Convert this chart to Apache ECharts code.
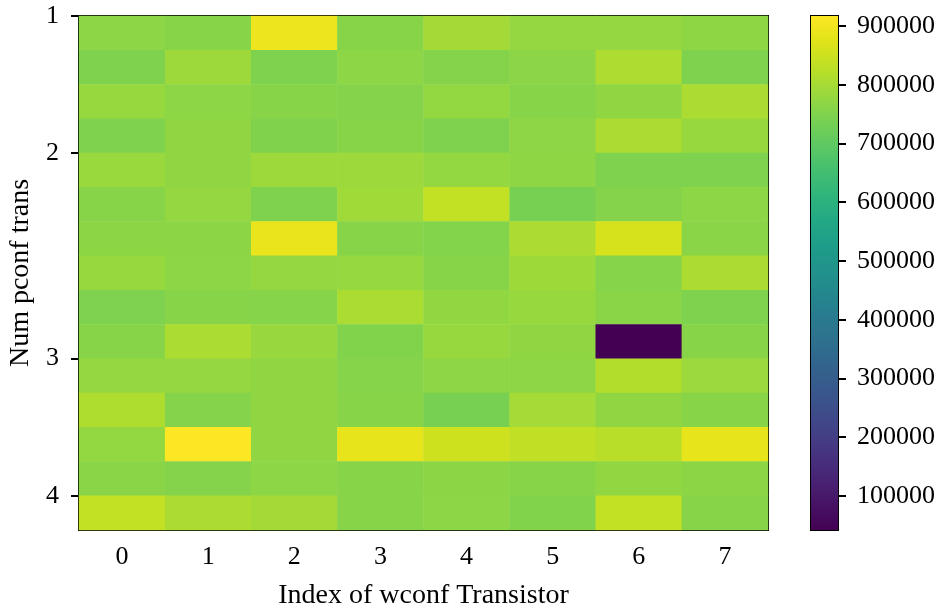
<!DOCTYPE html>
<html>
<head>
<meta charset="utf-8">
<script src="https://cdn.jsdelivr.net/npm/echarts@6/dist/echarts.min.js"></script>
<style>
  html, body { margin: 0; padding: 0; background: #ffffff; }
  #chart { width: 940px; height: 611px; }
</style>
</head>
<body>
<div id="chart"></div>
<script>
// Columns: index of the wconf transistor
const wconfIndex = ['0', '1', '2', '3', '4', '5', '6', '7'];

// Rows: the 15 pconf transistor combinations, grouped by how many are used
const pconfRows = ['0', '1', '2', '3', '4', '5', '6', '7', '8', '9', '10', '11', '12', '13', '14'];

// Row where each "Num pconf trans" group starts, and its label
const groupStartRows = [0, 4, 10, 14];
const groupLabels = ['1', '2', '3', '4'];

// Measured values, one list per row (columns 0..7)
const valuesByRow = [
  [767000, 759000, 893000, 759000, 796000, 777000, 776000, 769000],
  [749000, 788000, 749000, 767000, 755000, 764000, 810000, 748000],
  [780000, 767000, 760000, 755000, 775000, 759000, 771000, 808000],
  [749000, 771000, 750000, 760000, 749000, 768000, 808000, 780000],
  [784000, 771000, 788000, 788000, 775000, 769000, 749000, 749000],
  [760000, 776000, 749000, 792000, 836000, 739000, 755000, 767000],
  [766000, 766000, 889000, 759000, 754000, 808000, 862000, 763000],
  [780000, 767000, 776000, 778000, 760000, 789000, 756000, 808000],
  [747000, 760000, 756000, 805000, 773000, 781000, 763000, 749000],
  [759000, 806000, 782000, 752000, 781000, 771000, 42000, 760000],
  [777000, 777000, 771000, 756000, 768000, 768000, 815000, 786000],
  [812000, 755000, 771000, 760000, 739000, 797000, 771000, 760000],
  [775000, 917000, 771000, 886000, 850000, 834000, 823000, 886000],
  [763000, 755000, 767000, 760000, 766000, 760000, 773000, 766000],
  [836000, 807500, 796000, 760000, 767000, 752000, 836000, 760000]
];

// Colour scale limits and colourbar ticks
const valueMin = 42000;
const valueMax = 917000;
const colorbarTicks = [100000, 200000, 300000, 400000, 500000, 600000, 700000, 800000, 900000];

// Viridis colour map, low to high
const viridis = [
  '#440154', '#471365', '#482475', '#463480', '#414487', '#3b528b', '#355f8d',
  '#2f6c8e', '#2a788e', '#25848e', '#21918c', '#1e9c89', '#22a884', '#2fb47c',
  '#44bf70', '#5ec962', '#7ad151', '#9bd93c', '#bddf26', '#dfe318', '#fde725'
];

const heatData = [];
valuesByRow.forEach((row, r) => {
  row.forEach((v, c) => heatData.push([c, r, v]));
});

const FONT = '"Liberation Serif", "DejaVu Serif", serif';
const tickFont = { fontFamily: FONT, fontSize: 26, color: '#000' };
const nameFont = { fontFamily: FONT, fontSize: 28, color: '#000' };

// Vertical gradient for the colourbar (top = high)
const barGradient = new echarts.graphic.LinearGradient(0, 0, 0, 1,
  viridis.slice().reverse().map((c, i, arr) => ({ offset: i / (arr.length - 1), color: c })));

const chart = echarts.init(document.getElementById('chart'), null, { renderer: 'canvas' });

chart.setOption({
  animation: false,
  backgroundColor: '#ffffff',
  grid: [
    { left: 79, top: 16, width: 689, height: 514, show: true, borderColor: '#000', borderWidth: 2,
      backgroundColor: 'transparent', containLabel: false, outerBoundsMode: 'none' },
    { left: 811, top: 16, width: 27, height: 514, show: true, borderColor: '#000', borderWidth: 2,
      backgroundColor: 'transparent', containLabel: false, outerBoundsMode: 'none' }
  ],
  xAxis: [
    {
      type: 'category', gridIndex: 0, data: wconfIndex,
      axisLine: { show: false },
      axisTick: { show: true, alignWithLabel: true, length: 8, lineStyle: { color: '#000', width: 2 } },
      axisLabel: Object.assign({ margin: 14 }, tickFont),
      splitLine: { show: false },
      name: 'Index of wconf Transistor', nameLocation: 'middle', nameGap: 52,
      nameTextStyle: nameFont
    },
    {
      type: 'category', gridIndex: 1, data: ['bar'],
      show: false
    }
  ],
  yAxis: [
    {
      type: 'category', gridIndex: 0, data: pconfRows, inverse: true,
      show: false
    },
    {
      type: 'value', gridIndex: 0, min: 0, max: pconfRows.length, inverse: true,
      position: 'left',
      axisLine: { show: false },
      splitLine: { show: false },
      axisTick: { show: true, length: 8, customValues: groupStartRows, lineStyle: { color: '#000', width: 2 } },
      axisLabel: Object.assign({
        margin: 20,
        customValues: groupStartRows,
        formatter: v => groupLabels[groupStartRows.indexOf(v)] || ''
      }, tickFont),
      name: 'Num pconf trans', nameLocation: 'middle', nameGap: 44, nameRotate: 90,
      nameTextStyle: nameFont
    },
    {
      type: 'value', gridIndex: 1, min: valueMin, max: valueMax,
      position: 'right',
      axisLine: { show: false },
      splitLine: { show: false },
      axisTick: { show: true, length: 8, customValues: colorbarTicks, lineStyle: { color: '#000', width: 2 } },
      axisLabel: Object.assign({
        margin: 19,
        customValues: colorbarTicks,
        formatter: v => String(v)
      }, tickFont)
    }
  ],
  visualMap: {
    type: 'continuous', show: false, seriesIndex: 0,
    min: valueMin, max: valueMax,
    inRange: { color: viridis }
  },
  series: [
    {
      type: 'heatmap', xAxisIndex: 0, yAxisIndex: 0,
      data: heatData,
      itemStyle: { borderWidth: 0 },
      emphasis: { disabled: true },
      progressive: 0
    },
    {
      type: 'bar', xAxisIndex: 1, yAxisIndex: 2, stack: 'cb',
      data: [valueMin], barWidth: '100%',
      itemStyle: { color: 'rgba(0,0,0,0)' },
      silent: true
    },
    {
      type: 'bar', xAxisIndex: 1, yAxisIndex: 2, stack: 'cb',
      data: [valueMax - valueMin], barWidth: '100%',
      itemStyle: { color: barGradient },
      silent: true
    }
  ]
});
</script>
</body>
</html>
